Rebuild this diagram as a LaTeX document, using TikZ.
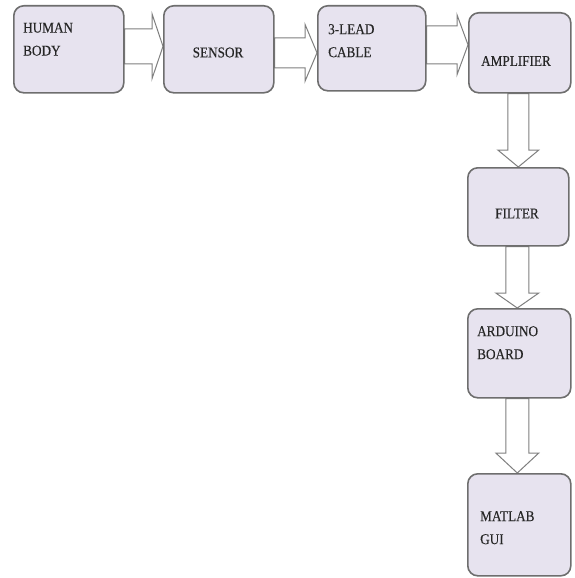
\documentclass[tikz,border=0pt]{standalone}
\usepackage{fontspec}
\setmainfont{Liberation Serif}
\newfontfamily\boxfont[FakeStretch=0.88,FakeBold=0.3]{Liberation Serif}
\usetikzlibrary{calc,backgrounds}
\definecolor{boxfill}{HTML}{E7E3EF}
\definecolor{boxline}{HTML}{6E6E6E}
\definecolor{arrline}{HTML}{7F7F7F}
\definecolor{txt}{HTML}{262626}
\tikzset{
  blockbox/.style={draw=boxline, line width=1.6pt, fill=boxfill, rounded corners=10pt, anchor=north west, inner sep=0pt},
  blocktext/.style={inner sep=0pt, text=txt, font=\boxfont\fontsize{15}{23}\selectfont, align=left},
  blockarrow/.style={draw=arrline, line width=1pt, fill=white, line join=miter}
}
% horizontal block arrow: from, to, dy, shaft half, head half, head length
\newcommand\hblock[6]{%
  \draw[blockarrow] let \p1=(#1.east), \p2=(#2.west) in
   (\x1,{\y1+#3+#4}) -- ({\x2-#6},{\y1+#3+#4}) -- ({\x2-#6},{\y1+#3+#5}) -- (\x2,{\y1+#3})
   -- ({\x2-#6},{\y1+#3-#5}) -- ({\x2-#6},{\y1+#3-#4}) -- (\x1,{\y1+#3-#4}) -- cycle;}
% vertical block arrow (downwards): from, to, dx, shaft half, head half, head length
\newcommand\vblock[6]{%
  \draw[blockarrow] let \p1=(#1.south), \p2=(#2.north) in
   ({\x1+#3-#4},\y1) -- ({\x1+#3-#4},{\y2+#6}) -- ({\x1+#3-#5},{\y2+#6}) -- ({\x1+#3},\y2)
   -- ({\x1+#3+#5},{\y2+#6}) -- ({\x1+#3+#4},{\y2+#6}) -- ({\x1+#3+#4},\y1) -- cycle;}
\begin{document}
\begin{tikzpicture}[x=1pt,y=-1pt]
\useasboundingbox (0,0) rectangle (574,578);
% boxes
\path
  (13,5)    node[blockbox, minimum width=110pt, minimum height=87pt] (hb) {}
  (163,5)   node[blockbox, minimum width=110pt, minimum height=87pt] (se) {}
  (317,5)   node[blockbox, minimum width=108pt, minimum height=85pt] (ca) {}
  (468,12)  node[blockbox, minimum width=102pt, minimum height=80pt] (am) {}
  (467,167) node[blockbox, minimum width=101pt, minimum height=78pt] (fi) {}
  (467,308) node[blockbox, minimum width=103pt, minimum height=89pt] (ar) {}
  (467,473) node[blockbox, minimum width=103pt, minimum height=102pt] (ma) {};
% texts
\node[blocktext, anchor=north west] (hbt) at (23,22.5) {HUMAN\\BODY};
\node[blocktext, anchor=center] (set) at (218,52.5) {SENSOR};
\node[blocktext, anchor=north west] (cat) at (328,24) {3-LEAD\\CABLE};
\node[blocktext, anchor=center] (amt) at (516,61) {AMPLIFIER};
\node[blocktext, anchor=center] (fit) at (517,213.5) {FILTER};
\node[blocktext, anchor=north west] (art) at (477,326) {ARDUINO\\BOARD};
\node[blocktext, anchor=north west] (mat) at (480,511) {MATLAB\\GUI};
% arrows behind the boxes
\begin{pgfonlayer}{background}
\hblock{hb}{se}{3pt}{17.5pt}{32.5pt}{11pt}
\hblock{se}{ca}{-3.5pt}{15pt}{28.5pt}{12pt}
\hblock{ca}{am}{3.5pt}{19pt}{30pt}{11pt}
\vblock{am}{fi}{-1.5pt}{10.5pt}{20.5pt}{17pt}
\vblock{fi}{ar}{-1pt}{11.5pt}{21.5pt}{15pt}
\vblock{ar}{ma}{-2pt}{11.5pt}{21.5pt}{20pt}
\end{pgfonlayer}
\end{tikzpicture}
\end{document}
